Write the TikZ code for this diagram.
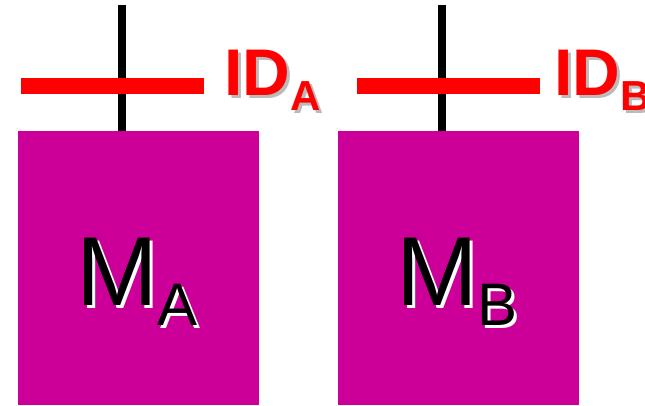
\documentclass[tikz,border=0pt]{standalone}
\usepackage{fontspec}
\setmainfont{Liberation Sans}
\usetikzlibrary{positioning}
\definecolor{modfill}{HTML}{CC0099}
\definecolor{idred}  {HTML}{FF0000}
\definecolor{shade}  {HTML}{BBBBBB}
\tikzset{
  module/.style  = {fill=modfill, inner sep=0pt,
                    minimum width=241pt, minimum height=274pt},
  idbar/.style   = {fill=idred, inner sep=0pt,
                    minimum width=183pt, minimum height=16pt},
  pin/.style     = {line width=8pt, black},
  idtext/.style  = {text=idred, inner sep=0pt, anchor=base west,
                    font=\fontsize{66}{66}\selectfont\bfseries},
  idshade/.style = {idtext, text=shade},
  mtext/.style   = {text=black, inner sep=0pt, anchor=base west,
                    font=\fontsize{98}{98}\selectfont},
  mshade/.style  = {mtext, text=white},
}
\newcommand{\idsub}[1]{\raisebox{-15pt}{\fontsize{42}{42}\selectfont #1}}
\newcommand{\msub}[1]{\raisebox{-20pt}{\fontsize{60}{60}\selectfont #1}}

\begin{document}
\begin{tikzpicture}[x=1pt, y=-1pt]
  \useasboundingbox (0,0) rectangle (645,405);

  % modules
  \node[module] (boxA) at (138.5,268) {};
  \node[module] (boxB) at (458.5,268) {};

  % pins from the top edge
  \coordinate (pinA) at (121.5,5);
  \coordinate (pinB) at (441.5,5);
  \draw[pin] (pinA) -- (pinA |- boxA.north);
  \draw[pin] (pinB) -- (pinB |- boxB.north);

  % ID bars
  \node[idbar] (barA) at (112.5,86) {};
  \node[idbar] (barB) at (448.5,86) {};

  % ID labels
  \node[idshade] (idAs) at (227,98) {ID\idsub{A}};
  \node[idtext]  (idA)  at (224,95) {ID\idsub{A}};
  \node[idshade] (idBs) at (557,98) {ID\idsub{B}};
  \node[idtext]  (idB)  at (554,95) {ID\idsub{B}};

  % module labels
  \node[mshade] (mAs) at (79,308) {M\msub{A}};
  \node[mtext]  (mA)  at (76,305) {M\msub{A}};
  \node[mshade] (mBs) at (399,308) {M\msub{B}};
  \node[mtext]  (mB)  at (396,305) {M\msub{B}};
\end{tikzpicture}
\end{document}
